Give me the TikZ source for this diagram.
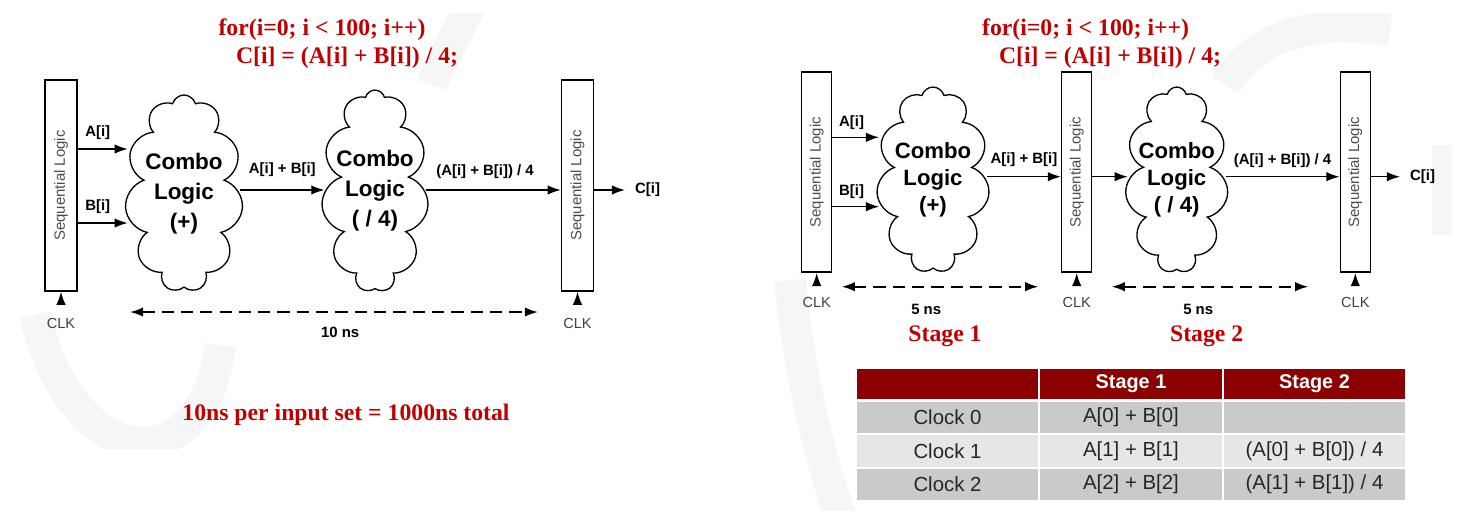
\documentclass[tikz,border=0pt]{standalone}
\usepackage{fontspec}
\setmainfont{Liberation Sans}
\newfontfamily\slidefont{Liberation Serif}
\usetikzlibrary{shapes.symbols, arrows.meta, positioning, calc}
\definecolor{codered}{RGB}{192,0,0}
\definecolor{headred}{RGB}{139,0,0}
\definecolor{rowdark}{RGB}{202,202,202}
\definecolor{rowlight}{RGB}{230,230,230}
\definecolor{wmark}{RGB}{246,246,246}

\begin{document}
\begin{tikzpicture}[
  x=0.02cm, y=-0.02cm,
  seqbox/.style={draw, line width=0.85pt, minimum width=18.2pt, minimum height=120pt, inner sep=0pt},
  seqtext/.style={rotate=90, text=black!70, font=\fontsize{8.5}{10}\selectfont},
  combo/.style={cloud, cloud puffs=11, cloud ignores aspect, draw, line width=0.75pt, inner sep=0pt},
  combotext/.style={align=center, font=\fontsize{12.8}{17}\selectfont\bfseries},
  wire/.style={-{Latex[length=7.5pt,width=5.4pt]}, line width=0.85pt},
  sig/.style={font=\fontsize{8.5}{10}\selectfont\bfseries},
  clk/.style={inner sep=1pt, text=black!75, font=\fontsize{8.3}{10}\selectfont},
  spanline/.style={{Latex[length=7.5pt,width=5.4pt]}-{Latex[length=7.5pt,width=5.4pt]}, line width=1.1pt, dash pattern=on 7pt off 4pt},
  codetext/.style={text=codered, font=\fontsize{13.5}{16}\selectfont\slidefont\bfseries},
  tcell/.style={draw=white, line width=1.2pt, minimum width=104.3pt, minimum height=19.1pt, inner sep=0pt, text=black!85, font=\fontsize{11.6}{13}\selectfont},
  headcell/.style={tcell, fill=headred, text=white, minimum height=18.4pt, font=\fontsize{11.3}{13}\selectfont\bfseries},
  wm/.style={draw=wmark, line width=18pt}
  ]
  \useasboundingbox (0,0) rectangle (1460,525);

  % faint logo in the slide backgrounds
  \begin{scope}
    \clip (17,13) rectangle (700,448);
    \draw[wm] (35,315) .. controls (75,480) and (205,480) .. (220,345);
    \draw[wm] (470,5) .. controls (455,40) and (440,60) .. (432,85);
  \end{scope}
  \begin{scope}
    \clip (775,13) rectangle (1452,510);
    \draw[wm] (790,280) .. controls (800,380) and (820,460) .. (845,530);
    \draw[wm] (1225,85) .. controls (1260,30) and (1320,20) .. (1390,30);
    \draw[wm, line width=11pt] (1442,145) -- (1442,235);
  \end{scope}

  % Single stage
  \node[codetext] (forL) at (322,29.5) {for(i=0; i < 100; i++)};
  \node[codetext] (bodyL) at (347,58) {C[i] = (A[i] + B[i]) / 4;};
  \node[seqbox] (seqL1) at (61,185.5) {};
  \node[seqtext] (seqL1txt) at (seqL1) {Sequential Logic};
  \node[combo, minimum width=67.2pt, minimum height=112.1pt] (addL) at (184,193.5) {};
  \node[combotext] (addLtxt) at (addL) {Combo\\Logic\\(+)};
  \node[combo, minimum width=60.9pt, minimum height=114.9pt] (divL) at (375,191) {};
  \node[combotext] (divLtxt) at (divL) {Combo\\Logic\\( / 4)};
  \node[seqbox] (seqL2) at (577.5,185.5) {};
  \node[seqtext] (seqL2txt) at (seqL2) {Sequential Logic};
  \coordinate (outL) at (625,190);
  \draw[wire] (seqL1.east |- 0,149) -- (addL.west |- 0,149) node[sig, pos=0.4, above=1.8pt] (labAL) {A[i]};
  \draw[wire] (seqL1.east |- 0,223) -- (addL.west |- 0,223) node[sig, pos=0.4, above=1.8pt] (labBL) {B[i]};
  \draw[wire] (addL.east |- 0,190) -- (divL.west |- 0,190) node[sig, midway, above=4pt] (labSumL) {A[i] + B[i]};
  \draw[wire] (divL.east |- 0,190) -- (seqL2.west |- 0,190) node[sig, pos=0.44, above=3pt] (labDivL) {(A[i] + B[i]) / 4};
  \draw[wire] (seqL2.east |- outL) -- (outL) node[sig, right=2pt] (labCL) {C[i]};
  \node[clk, below=13.7pt of seqL1.south] (clkL1) {CLK};
  \node[clk, below=13.7pt of seqL2.south] (clkL2) {CLK};
  \draw[wire, shorten <=6.8pt] (clkL1.north) -- (seqL1.south);
  \draw[wire, shorten <=6.8pt] (clkL2.north) -- (seqL2.south);
  \coordinate (spanL1) at (130,312);
  \coordinate (spanL2) at (538,312);
  \draw[spanline] (spanL1) -- (spanL2) node[sig, pos=0.515, below=4.6pt] (tL) {10 ns};
  \node[codetext] (totalL) at (346,415) {10ns per input set = 1000ns total};

  % Two stages
  \node[codetext] (forR) at (1085.6,29.5) {for(i=0; i < 100; i++)};
  \node[codetext] (bodyR) at (1110,58) {C[i] = (A[i] + B[i]) / 4;};
  \node[seqbox, minimum width=17.1pt, minimum height=113.8pt] (seqR1) at (816.7,172.2) {};
  \node[seqtext] (seqR1txt) at (seqR1) {Sequential Logic};
  \node[combo, minimum width=64.3pt, minimum height=105.8pt] (addR) at (933,180) {};
  \node[combotext, font=\fontsize{12.6}{15.5}\selectfont\bfseries] (addRtxt) at (addR) {Combo\\Logic\\(+)};
  \node[seqbox, minimum width=17.1pt, minimum height=113.8pt] (seqR2) at (1076.7,172.2) {};
  \node[seqtext] (seqR2txt) at (seqR2) {Sequential Logic};
  \node[combo, minimum width=58.6pt, minimum height=105.8pt] (divR) at (1176.7,180) {};
  \node[combotext, font=\fontsize{12.6}{15.5}\selectfont\bfseries] (divRtxt) at (divR) {Combo\\Logic\\( / 4)};
  \node[seqbox, minimum width=17.1pt, minimum height=113.8pt] (seqR3) at (1355.3,172.2) {};
  \node[seqtext] (seqR3txt) at (seqR3) {Sequential Logic};
  \coordinate (outR) at (1400,176.7);
  \draw[wire] (seqR1.east |- 0,137.3) -- (addR.west |- 0,137.3) node[sig, pos=0.41, above=0.6pt] (labAR) {A[i]};
  \draw[wire] (seqR1.east |- 0,206.7) -- (addR.west |- 0,206.7) node[sig, pos=0.41, above=0.6pt] (labBR) {B[i]};
  \draw[wire] (addR.east |- 0,176.7) -- (seqR2.west |- 0,176.7) node[sig, midway, above=2pt] (labSumR) {A[i] + B[i]};
  \draw[wire] (seqR2.east |- 0,176.7) -- (divR.west |- 0,176.7);
  \draw[wire] (divR.east |- 0,176.7) -- (seqR3.west |- 0,176.7) node[sig, midway, above=1.2pt] (labDivR) {(A[i] + B[i]) / 4};
  \draw[wire] (seqR3.east |- outR) -- (outR) node[sig, right=2pt] (labCR) {C[i]};
  \node[clk, below=12.9pt of seqR1.south] (clkR1) {CLK};
  \node[clk, below=12.9pt of seqR2.south] (clkR2) {CLK};
  \node[clk, below=12.9pt of seqR3.south] (clkR3) {CLK};
  \draw[wire, shorten <=5.7pt] (clkR1.north) -- (seqR1.south);
  \draw[wire, shorten <=5.7pt] (clkR2.north) -- (seqR2.south);
  \draw[wire, shorten <=5.7pt] (clkR3.north) -- (seqR3.south);
  \coordinate (spanR1) at (841.7,286.7);
  \coordinate (spanR2) at (1038.3,286.7);
  \coordinate (spanR3) at (1111.7,286.7);
  \coordinate (spanR4) at (1308.3,286.7);
  \draw[spanline] (spanR1) -- (spanR2) node[sig, pos=0.43, below=5.9pt] (tR1) {5 ns};
  \draw[spanline] (spanR3) -- (spanR4) node[sig, pos=0.44, below=5.9pt] (tR2) {5 ns};
  \node[codetext] (stage1) at (945,336.7) {Stage 1};
  \node[codetext] (stage2) at (1206.7,336.7) {Stage 2};

  % Table
  \node[headcell] (h0) at (947.5,383.9) {};
  \node[headcell] (h1) at (1131,383.9) {Stage 1};
  \node[headcell] (h2) at (1314.5,383.9) {Stage 2};
  \node[tcell, fill=rowdark] (c00) at (947.5,417.6) {Clock 0};
  \node[tcell, fill=rowdark] (c01) at (1131,417.6) {A[0] + B[0]};
  \node[tcell, fill=rowdark] (c02) at (1314.5,417.6) {};
  \node[tcell, fill=rowlight] (c10) at (947.5,451.1) {Clock 1};
  \node[tcell, fill=rowlight] (c11) at (1131,451.1) {A[1] + B[1]};
  \node[tcell, fill=rowlight] (c12) at (1314.5,451.1) {(A[0] + B[0]) / 4};
  \node[tcell, fill=rowdark] (c20) at (947.5,484.6) {Clock 2};
  \node[tcell, fill=rowdark] (c21) at (1131,484.6) {A[2] + B[2]};
  \node[tcell, fill=rowdark] (c22) at (1314.5,484.6) {(A[1] + B[1]) / 4};
\end{tikzpicture}
\end{document}
